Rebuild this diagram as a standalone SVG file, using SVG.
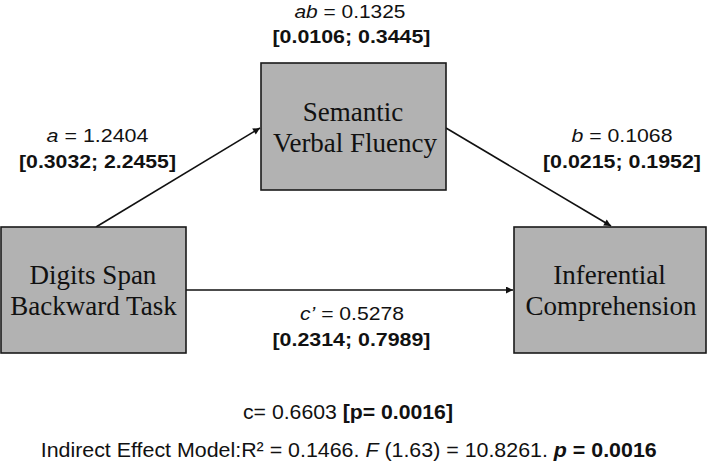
<svg xmlns="http://www.w3.org/2000/svg" width="707" height="463" viewBox="0 0 707 463">
<style>
.box{fill:#b2b2b2;stroke:#1a1a1a;stroke-width:1.6}
.nt{font-family:"Liberation Serif","Times New Roman",serif;font-size:27px;fill:#111;text-anchor:middle}
.lb{font-family:"Liberation Sans",Arial,sans-serif;font-size:19px;fill:#111;text-anchor:middle}
.bt{font-family:"Liberation Sans",Arial,sans-serif;font-size:21px;fill:#111;text-anchor:middle}
.conn{stroke:#111;stroke-width:1.6;fill:none;marker-end:url(#ah)}
.b{font-weight:bold}
.i{font-style:italic}
</style>
<defs>
<marker id="ah" viewBox="0 0 10 10" refX="10" refY="5" markerWidth="9" markerHeight="7" markerUnits="userSpaceOnUse" orient="auto">
<path d="M0,0 L10,5 L0,10 z" fill="#111"/>
</marker>
</defs>
<g id="connectors">
<line class="conn" x1="96" y1="227" x2="260" y2="128"/>
<line class="conn" x1="446" y1="128" x2="611" y2="226"/>
<line class="conn" x1="186" y1="290" x2="513" y2="290"/>
</g>
<g id="node-mediator">
<rect class="box" x="261" y="63" width="185" height="127"/>
<text class="nt" x="353" y="121">Semantic</text>
<text class="nt" x="355" y="152">Verbal Fluency</text>
</g>
<g id="node-x">
<rect class="box" x="1" y="227" width="185" height="126"/>
<text class="nt" x="93" y="284">Digits Span</text>
<text class="nt" x="93.5" y="315">Backward Task</text>
</g>
<g id="node-y">
<rect class="box" x="514" y="227" width="192" height="126"/>
<text class="nt" x="609.5" y="284">Inferential</text>
<text class="nt" x="611" y="315">Comprehension</text>
</g>
<g id="labels">
<text class="lb" x="350" y="18" textLength="111" lengthAdjust="spacingAndGlyphs"><tspan class="i">ab</tspan> = 0.1325</text>
<text class="lb b" x="351.5" y="43" textLength="158" lengthAdjust="spacingAndGlyphs">[0.0106; 0.3445]</text>
<text class="lb" x="97.5" y="142" textLength="102" lengthAdjust="spacingAndGlyphs"><tspan class="i">a</tspan> = 1.2404</text>
<text class="lb b" x="97.5" y="168" textLength="157" lengthAdjust="spacingAndGlyphs">[0.3032; 2.2455]</text>
<text class="lb" x="622" y="142" textLength="101" lengthAdjust="spacingAndGlyphs"><tspan class="i">b</tspan> = 0.1068</text>
<text class="lb b" x="622" y="168" textLength="158" lengthAdjust="spacingAndGlyphs">[0.0215; 0.1952]</text>
<text class="lb" x="352" y="320" textLength="104" lengthAdjust="spacingAndGlyphs"><tspan class="i">c’</tspan> = 0.5278</text>
<text class="lb b" x="351.5" y="346" textLength="158" lengthAdjust="spacingAndGlyphs">[0.2314; 0.7989]</text>
<text class="bt" x="348" y="419" textLength="210" lengthAdjust="spacingAndGlyphs">c= 0.6603 <tspan class="b">[p= 0.0016]</tspan></text>
<text class="bt" x="348.7" y="457" textLength="616" lengthAdjust="spacingAndGlyphs">Indirect Effect Model:R² = 0.1466. <tspan class="i">F</tspan> (1.63) = 10.8261. <tspan class="b i">p</tspan><tspan class="b"> = 0.0016</tspan></text>
</g>
</svg>
